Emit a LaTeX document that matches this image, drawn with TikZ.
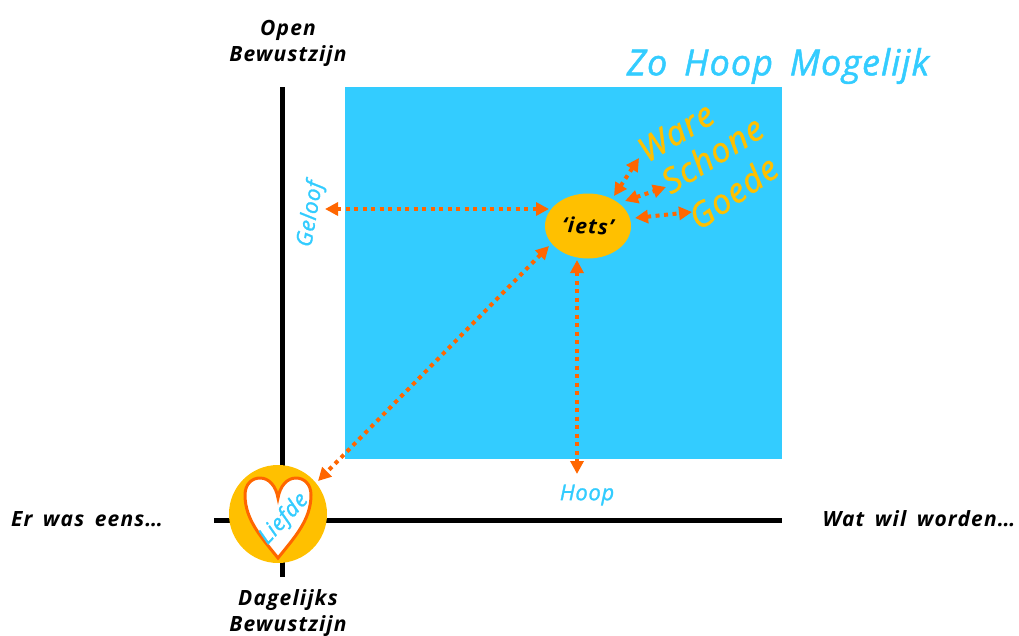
\documentclass[tikz,border=0pt]{standalone}
\usepackage{fontspec}
\setmainfont{Open Sans}
\newfontfamily\handb[LetterSpace=5.5,WordSpace=1.6]{Open Sans}
\newfontfamily\handl[LetterSpace=3,WordSpace=1.6,FakeBold=1.3]{Open Sans}
\usetikzlibrary{arrows.meta,shapes.geometric}
\definecolor{sky}{HTML}{33CCFF}
\definecolor{gold}{HTML}{FFC000}
\definecolor{orng}{HTML}{FF6600}
\tikzset{
 hand/.style={font=\handb\bfseries\itshape\fontsize{#1}{26}\selectfont, inner sep=0pt, align=center},
 thin hand/.style={font=\handl\itshape\fontsize{#1}{26}\selectfont, inner sep=0pt, align=center},
 blacktxt/.style={hand=21, text=black},
 bluetxt/.style={thin hand=22, text=sky},
 goldtxt/.style={thin hand=34, text=gold},
 axisline/.style={line width=5pt, draw=black},
 link/.style={draw=orng, line width=4pt, dash pattern=on 4pt off 4.5pt,
   {Triangle[length=13pt,width=13pt,fill=orng,sep=0pt]}-{Triangle[length=13pt,width=13pt,fill=orng,sep=0pt]}},
}
\begin{document}
\begin{tikzpicture}[x=1pt,y=-1pt]
\useasboundingbox (0,0) rectangle (1019,635);
\fill[sky] (345,87) rectangle (782,459);
\draw[axisline] (282,87) -- (282,577);
\draw[axisline] (214,520) -- (782,520);
\node[circle, fill=gold, minimum size=98pt, inner sep=0pt] (liefdebg) at (278,514) {};
\draw[orng, line width=3pt, fill=white, line join=miter]
  (278,558) .. controls (262,538) and (245,520) .. (245,495)
  .. controls (245,484) and (252,478) .. (260,478)
  .. controls (269,478) and (276,486) .. (278,498)
  .. controls (280,486) and (287,478) .. (296,478)
  .. controls (304,478) and (311,484) .. (311,495)
  .. controls (311,520) and (294,538) .. (278,558) -- cycle;
\node[ellipse, fill=gold, minimum width=86pt, minimum height=65pt, inner sep=0pt] (iets) at (588,226) {};
\node[blacktxt, rotate=-3] at (588,226) {‘iets’};
\node[thin hand=22, text=sky, rotate=47] (liefde) at (284,519) {Liefde};
\node[blacktxt] (open) at (288,43) {Open\\Bewustzijn};
\node[blacktxt] (dag) at (288,613) {Dagelijks\\Bewustzijn};
\node[blacktxt] (start) at (87,519) {Er was eens…};
\node[blacktxt] (end) at (919,519) {Wat wil worden…};
\node[thin hand=36, text=sky] (title) at (778,66) {Zo Hoop Mogelijk};
\node[bluetxt, rotate=80] (geloof) at (311,214) {Geloof};
\node[bluetxt] (hoop) at (587,495) {Hoop};
\node[goldtxt, rotate=31] (ware) at (676,132) {Ware};
\node[goldtxt, rotate=32] (schone) at (712,154) {Schone};
\node[goldtxt, rotate=35] (goede) at (733,192) {Goede};
\coordinate (g1) at (325,209); \coordinate (g2) at (549,209);
\coordinate (l1) at (549,246); \coordinate (l2) at (318,481);
\coordinate (h1) at (577,260); \coordinate (h2) at (577,474);
\coordinate (w1) at (614,196); \coordinate (w2) at (639,158);
\coordinate (s1) at (625,201); \coordinate (s2) at (666,187);
\coordinate (d1) at (635,218); \coordinate (d2) at (692,212);
\draw[link] (g1) -- (g2);
\draw[link] (l1) -- (l2);
\draw[link] (h1) -- (h2);
\draw[link] (w1) -- (w2);
\draw[link] (s1) -- (s2);
\draw[link] (d1) -- (d2);
\end{tikzpicture}
\end{document}
